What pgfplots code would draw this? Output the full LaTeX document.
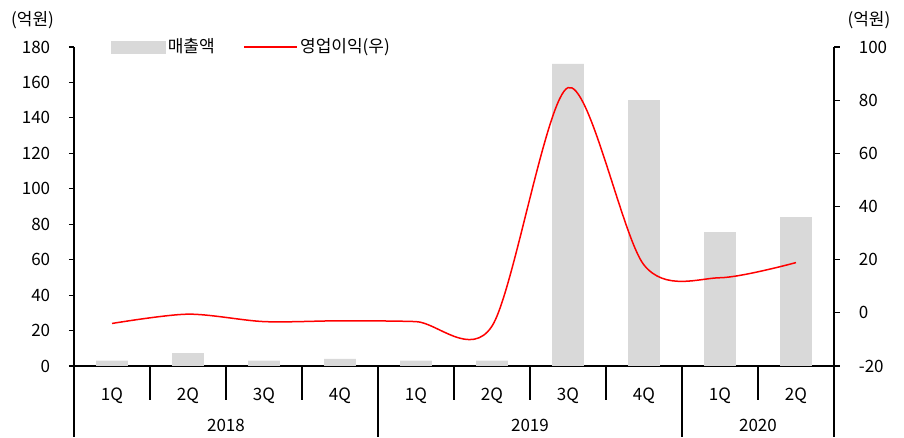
\documentclass[border=0pt]{standalone}
\usepackage{fontspec}
\setmainfont{Noto Sans CJK KR}
\usepackage{pgfplots}
\pgfplotsset{compat=1.18}
\definecolor{barg}{HTML}{D9D9D9}
\definecolor{linered}{HTML}{FF0000}
\begin{document}
\fontsize{17bp}{20bp}\selectfont
\begin{tikzpicture}
\begin{axis}[
  width=760bp, height=319bp, scale only axis,
  xmin=-0.5, xmax=9.5, ymin=0, ymax=180,
  ytick={0,20,...,180},
  axis y line*=left, axis x line*=bottom,
  xtick={0,...,9}, xticklabels={1Q,2Q,3Q,4Q,1Q,2Q,3Q,4Q,1Q,2Q},
  x tick style={draw=none},
  xticklabel style={anchor=center, yshift=-25bp},
  yticklabel style={xshift=-13bp},
  tick align=outside, major tick length=5bp,
  y tick style={black, line width=1.2bp},
  axis line style={line width=1.5bp, -},
  /pgf/number format/assume math mode=true,
  tick label style={font=\fontsize{17bp}{20bp}\selectfont},
  clip=false,
]
\addplot[ybar, bar width=0.42, fill=barg, draw=none] coordinates {
  (0,3) (1,7.2) (2,3) (3,4) (4,3) (5,3) (6,170.5) (7,150) (8,75.6) (9,84)
};
% category separators
\draw[line width=1.5bp] (axis cs:0.5,0) -- ++(0pt,-34bp);
\draw[line width=1.5bp] (axis cs:1.5,0) -- ++(0pt,-34bp);
\draw[line width=1.5bp] (axis cs:2.5,0) -- ++(0pt,-34bp);
\draw[line width=1.5bp] (axis cs:4.5,0) -- ++(0pt,-34bp);
\draw[line width=1.5bp] (axis cs:5.5,0) -- ++(0pt,-34bp);
\draw[line width=1.5bp] (axis cs:6.5,0) -- ++(0pt,-34bp);
\draw[line width=1.5bp] (axis cs:8.5,0) -- ++(0pt,-34bp);
\draw[line width=1.5bp] (axis cs:-0.5,0) -- ++(0pt,-71bp);
\draw[line width=1.5bp] (axis cs:3.5,0) -- ++(0pt,-71bp);
\draw[line width=1.5bp] (axis cs:7.5,0) -- ++(0pt,-71bp);
\draw[line width=1.5bp] (axis cs:9.5,0) -- ++(0pt,-71bp);
\node at ([yshift=-59bp]axis cs:1.5,0) {2018};
\node at ([yshift=-59bp]axis cs:5.5,0) {2019};
\node at ([yshift=-59bp]axis cs:8.5,0) {2020};
\node at (axis description cs:-0.0546,1.0846) {(억원)};
\node at (axis description cs:1.046,1.0846) {(억원)};
\path (axis description cs:-0.09737,-0.22257) rectangle (axis description cs:1.09211,1.14734);
\end{axis}
\begin{axis}[
  width=760bp, height=319bp, scale only axis,
  xmin=-0.5, xmax=9.5, ymin=-20, ymax=100,
  ytick={-20,0,...,100},
  axis y line*=right, axis x line=none,
  yticklabel style={xshift=13bp},
  tick align=outside, major tick length=6bp,
  y tick style={black, line width=1.2bp},
  axis line style={line width=1.5bp, -},
  /pgf/number format/assume math mode=true,
  tick label style={font=\fontsize{17bp}{20bp}\selectfont},
  legend columns=2,
  legend style={at={(axis description cs:0.045,1)}, anchor=west, draw=none, fill=none,
    font=\fontsize{17bp}{20bp}\selectfont,
    /tikz/every even column/.append style={column sep=27bp}},
]
\addlegendimage{legend image code/.code={\fill[barg] (0bp,-6bp) rectangle (54bp,6bp);}}
\addlegendentry{매출액}
\addplot[linered, line width=1.5bp, smooth, no markers,
  legend image code/.code={\draw[linered,line width=1.5bp] (0bp,0bp) -- (53bp,0bp);}]
  coordinates {
  (0,-4) (1,-0.5) (2,-3.3) (3,-3) (4,-3.3) (5,-5) (6,84.7) (7,18) (8,13.2) (9,18.9)
};
\addlegendentry{영업이익(우)}
\end{axis}
\end{tikzpicture}
\end{document}
